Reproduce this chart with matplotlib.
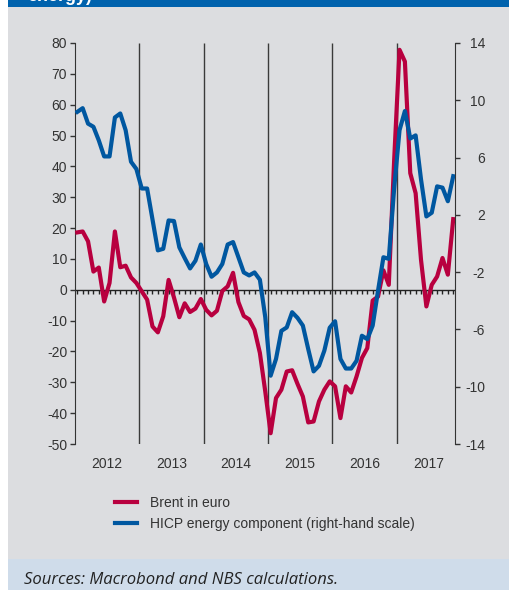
import matplotlib
matplotlib.use('Agg')
import matplotlib.pyplot as plt
from matplotlib.patches import Rectangle
from matplotlib.lines import Line2D

plt.rcParams['font.family'] = ['Liberation Sans', 'DejaVu Sans']
plt.rcParams['axes.unicode_minus'] = False

# monthly data, Jan 2012 - Nov 2017
years = ['2012', '2013', '2014', '2015', '2016', '2017']
brent = [18.6, 18.9, 15.7, 5.9, 7.2, -3.8, 2.2, 18.9, 7.3, 7.8, 4.0, 2.2,
         -0.5, -3.2, -11.9, -13.8, -8.6, 3.2, -2.5, -8.9, -4.4, -7.2, -6.1, -3.0,
         -6.5, -8.3, -6.8, -0.4, 1.1, 5.5, -4.0, -8.5, -9.6, -13.0, -20.5, -33.0,
         -46.5, -35.1, -32.4, -26.5, -26.1, -30.5, -34.6, -43.0, -42.7, -36.2, -32.4, -29.7,
         -31.3, -41.6, -31.3, -33.3, -28.1, -22.1, -18.9, -3.5, -2.2, 6.3, 1.6, 42.0,
         77.8, 74.0, 37.8, 31.3, 9.7, -5.4, 1.6, 4.3, 10.3, 4.9, 22.9]
hicp = [9.19, 9.45, 8.37, 8.15, 7.20, 6.08, 6.08, 8.80, 9.08, 7.91, 5.71, 5.20,
        3.84, 3.84, 1.68, -0.48, -0.37, 1.61, 1.57, -0.27, -1.02, -1.74, -1.20, -0.07,
        -1.43, -2.32, -2.02, -1.43, -0.07, 0.10, -0.96, -2.02, -2.23, -2.02, -2.53, -5.15,
        -9.23, -8.06, -6.10, -5.86, -4.80, -5.19, -5.73, -7.37, -8.93, -8.54, -7.48, -5.88,
        -5.43, -8.06, -8.73, -8.73, -8.19, -6.44, -6.68, -5.73, -3.29, -0.96, -1.07, 3.84,
        7.91, 9.25, 7.33, 7.55, 4.48, 1.89, 2.15, 3.99, 3.90, 2.95, 4.70]
months = list(range(len(brent)))

red = '#b8003f'
blue = '#0057a0'
txt = '#333333'

fig = plt.figure(figsize=(5.1, 5.9), dpi=100)
fig.patch.set_facecolor('white')

# background panels
fig.patches.append(Rectangle((8/510, 31/590), 502/510, 552/590, transform=fig.transFigure,
                             facecolor='#dcdde0', edgecolor='none', zorder=-3))
fig.patches.append(Rectangle((8/510, 583/590), 502/510, 7/590, transform=fig.transFigure,
                             facecolor='#0062ad', edgecolor='none', zorder=-3))
fig.patches.append(Rectangle((8/510, 0), 502/510, 31/590, transform=fig.transFigure,
                             facecolor='#cfdcea', edgecolor='none', zorder=-3))
# title above is cut off by the crop, only the bottom of it shows
fig.text(27/510, 1 - 1.2/590, 'energy)', color='white', fontsize=13, fontweight='bold',
         va='baseline', ha='left')

ax = fig.add_axes([75/510, 1 - 444/590, 380/510, 401/590])
ax.set_facecolor('none')
ax.set_xlim(-0.43, 70.33)
ax.set_ylim(-50, 80)

ax.vlines([11.5, 23.5, 35.5, 47.5, 59.5], -50, 80, color='#3a3a3a', lw=1.0, zorder=1)
ax.axhline(0, color='#222222', lw=1.0, zorder=1)
ax.vlines(months, -1.4, 0, color='#222222', lw=1.0, zorder=1)

ax.plot(months, brent, color=red, lw=3, solid_joinstyle='round', zorder=3)

ax2 = ax.twinx()
ax2.set_ylim(-14, 14)
ax2.plot(months, hicp, color=blue, lw=3, solid_joinstyle='round', zorder=3)

for a in (ax, ax2):
    for s in ('top', 'bottom'):
        a.spines[s].set_visible(False)
ax.spines['right'].set_visible(False)
ax2.spines['left'].set_visible(False)
ax.spines['left'].set_color(txt)
ax2.spines['right'].set_color(txt)

ax.set_yticks(range(-50, 81, 10))
ax.tick_params(axis='y', direction='out', length=3.6, width=1, colors=txt, labelsize=10, pad=2)
ax.set_xticks([5.5, 17.5, 29.5, 41.5, 53.5, 65.5], labels=years)
ax.tick_params(axis='x', length=0, labelsize=10, labelcolor=txt, pad=9)

ax2.set_yticks(range(-14, 15, 4))
ax2.tick_params(axis='y', direction='out', length=3.6, width=1, colors=txt, labelsize=10, pad=18)
for lbl in ax2.get_yticklabels():
    lbl.set_horizontalalignment('right')

handles = [Line2D([], [], color=red, lw=3), Line2D([], [], color=blue, lw=3)]
fig.legend(handles, ['Brent in euro', 'HICP energy component (right-hand scale)'],
           loc='upper left', bbox_to_anchor=(115/510, 1 - 496/590), frameon=False,
           fontsize=10, labelcolor=txt, handlelength=1.6, handletextpad=0.95,
           labelspacing=0.5, borderpad=0, borderaxespad=0)

fig.text(24/510, 5.7/590, 'Sources: Macrobond and NBS calculations.', fontsize=12,
         style='italic', color='#222222', family=['Open Sans', 'DejaVu Sans'],
         va='baseline', ha='left')

fig.savefig('out.png', dpi=100)
